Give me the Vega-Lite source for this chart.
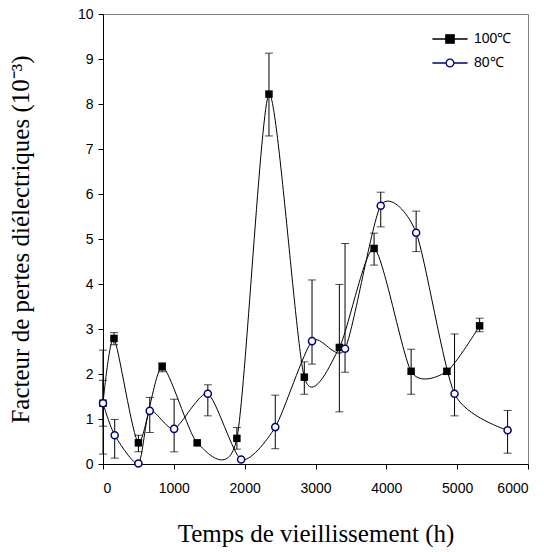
{
  "$schema": "https://vega.github.io/schema/vega-lite/v6.json",
  "width": 425,
  "height": 450,
  "autosize": {"type": "none"},
  "padding": {"left": 103, "top": 14, "right": 16, "bottom": 88},
  "background": "white",
  "config": {
    "view": {"stroke": "#808080", "strokeWidth": 1},
    "axis": {
      "domainColor": "black",
      "tickColor": "black",
      "labelColor": "black",
      "labelFont": "Liberation Sans",
      "labelFontSize": 14,
      "tickSize": 5,
      "grid": false,
      "titleFont": "Liberation Serif",
      "titleFontSize": 25,
      "titleFontWeight": "normal",
      "titleColor": "black"
    }
  },
  "data": {
    "values": [
      {"series": "100℃", "t": 0, "v": 1.35, "lo": 0.22, "hi": 2.53},
      {"series": "100℃", "t": 155, "v": 2.79, "lo": 2.65, "hi": 2.92},
      {"series": "100℃", "t": 500, "v": 0.47, "lo": 0.27, "hi": 0.64},
      {"series": "100℃", "t": 835, "v": 2.16, "lo": 2.05, "hi": 2.25},
      {"series": "100℃", "t": 1330, "v": 0.47, "lo": 0.43, "hi": 0.51},
      {"series": "100℃", "t": 1890, "v": 0.57, "lo": 0.33, "hi": 0.81},
      {"series": "100℃", "t": 2343, "v": 8.22, "lo": 7.29, "hi": 9.13},
      {"series": "100℃", "t": 2842, "v": 1.93, "lo": 1.55, "hi": 2.27},
      {"series": "100℃", "t": 3337, "v": 2.59, "lo": 1.16, "hi": 3.99},
      {"series": "100℃", "t": 3827, "v": 4.79, "lo": 4.42, "hi": 5.13},
      {"series": "100℃", "t": 4350, "v": 2.06, "lo": 1.55, "hi": 2.55},
      {"series": "100℃", "t": 4855, "v": 2.06, "lo": 2.0, "hi": 2.12},
      {"series": "100℃", "t": 5317, "v": 3.07, "lo": 2.94, "hi": 3.24},
      {"series": "80℃", "t": 0, "v": 1.35, "lo": 0.84, "hi": 1.86},
      {"series": "80℃", "t": 165, "v": 0.64, "lo": 0.13, "hi": 0.99},
      {"series": "80℃", "t": 500, "v": 0.01, "lo": 0.01, "hi": 0.01},
      {"series": "80℃", "t": 660, "v": 1.18, "lo": 0.7, "hi": 1.48},
      {"series": "80℃", "t": 1004, "v": 0.78, "lo": 0.27, "hi": 1.44},
      {"series": "80℃", "t": 1480, "v": 1.56, "lo": 1.07, "hi": 1.76},
      {"series": "80℃", "t": 1950, "v": 0.1, "lo": 0.1, "hi": 0.1},
      {"series": "80℃", "t": 2432, "v": 0.82, "lo": 0.34, "hi": 1.53},
      {"series": "80℃", "t": 2951, "v": 2.73, "lo": 2.22, "hi": 4.09},
      {"series": "80℃", "t": 3417, "v": 2.56, "lo": 2.04, "hi": 4.9},
      {"series": "80℃", "t": 3921, "v": 5.74, "lo": 5.27, "hi": 6.04},
      {"series": "80℃", "t": 4421, "v": 5.14, "lo": 4.72, "hi": 5.62},
      {"series": "80℃", "t": 4963, "v": 1.56, "lo": 1.07, "hi": 2.89},
      {"series": "80℃", "t": 5712, "v": 0.75, "lo": 0.24, "hi": 1.19}
    ]
  },
  "encoding": {
    "x": {
      "field": "t",
      "type": "quantitative",
      "scale": {"domain": [0, 6000], "nice": false, "zero": false},
      "axis": {
        "values": [0, 1000, 2000, 3000, 4000, 5000, 6000],
        "format": "d",
        "labelPadding": 12,
        "title": "Temps de vieillissement (h)",
        "titlePadding": 26
      }
    }
  },
  "layer": [
    {
      "mark": {"type": "line", "interpolate": "cardinal", "tension": 0.3, "color": "black", "strokeWidth": 1},
      "encoding": {
        "y": {
          "field": "v",
          "type": "quantitative",
          "scale": {"domain": [0, 10], "nice": false},
          "axis": {
            "values": [0, 1, 2, 3, 4, 5, 6, 7, 8, 9, 10],
            "labelPadding": 5,
            "title": "Facteur de pertes diélectriques (10⁻³)",
            "titlePadding": 44
          }
        },
        "detail": {"field": "series"},
        "order": {"field": "t"}
      }
    },
    {
      "mark": {"type": "rule", "color": "black", "strokeWidth": 1},
      "encoding": {
        "y": {"field": "lo", "type": "quantitative"},
        "y2": {"field": "hi"}
      }
    },
    {
      "mark": {"type": "tick", "orient": "horizontal", "color": "black", "size": 8, "thickness": 1},
      "encoding": {"y": {"field": "lo", "type": "quantitative"}}
    },
    {
      "mark": {"type": "tick", "orient": "horizontal", "color": "black", "size": 8, "thickness": 1},
      "encoding": {"y": {"field": "hi", "type": "quantitative"}}
    },
    {
      "transform": [{"filter": "datum.series == '100℃'"}],
      "mark": {"type": "point", "shape": "square", "filled": true, "color": "black", "opacity": 1, "size": 56},
      "encoding": {"y": {"field": "v", "type": "quantitative"}}
    },
    {
      "transform": [{"filter": "datum.series == '80℃'"}],
      "mark": {"type": "point", "shape": "circle", "filled": false, "fill": "white", "stroke": "#000080", "strokeWidth": 1.5, "opacity": 1, "size": 50},
      "encoding": {"y": {"field": "v", "type": "quantitative"}}
    },
    {
      "transform": [{"filter": "datum.t < 0"}],
      "mark": {"type": "point", "filled": false, "opacity": 1, "strokeWidth": 1.3},
      "encoding": {
        "y": {"field": "v", "type": "quantitative"},
        "shape": {
          "field": "series",
          "type": "nominal",
          "scale": {"domain": ["100℃", "80℃"], "range": ["M-1.1,0H1.1M-0.26,-0.26H0.26V0.26H-0.26Z", "M-1.1,0H-0.24M0.24,0H1.1M-0.24,0A0.24,0.24 0 1,0 0.24,0A0.24,0.24 0 1,0 -0.24,0Z"]},
          "legend": {
            "orient": "none",
            "legendX": 330,
            "legendY": 8,
            "title": null,
            "labelFont": "Liberation Sans",
            "labelFontSize": 14,
            "labelColor": "black",
            "labelOffset": 7,
            "symbolSize": 1024,
            "symbolStrokeWidth": 1.3,
            "symbolOpacity": 1,
            "rowPadding": 0,
            "padding": 0
          }
        },
        "fill": {
          "field": "series",
          "type": "nominal",
          "scale": {"domain": ["100℃", "80℃"], "range": ["black", "white"]}
        },
        "stroke": {
          "field": "series",
          "type": "nominal",
          "scale": {"domain": ["100℃", "80℃"], "range": ["black", "#000080"]}
        }
      }
    }
  ]
}
